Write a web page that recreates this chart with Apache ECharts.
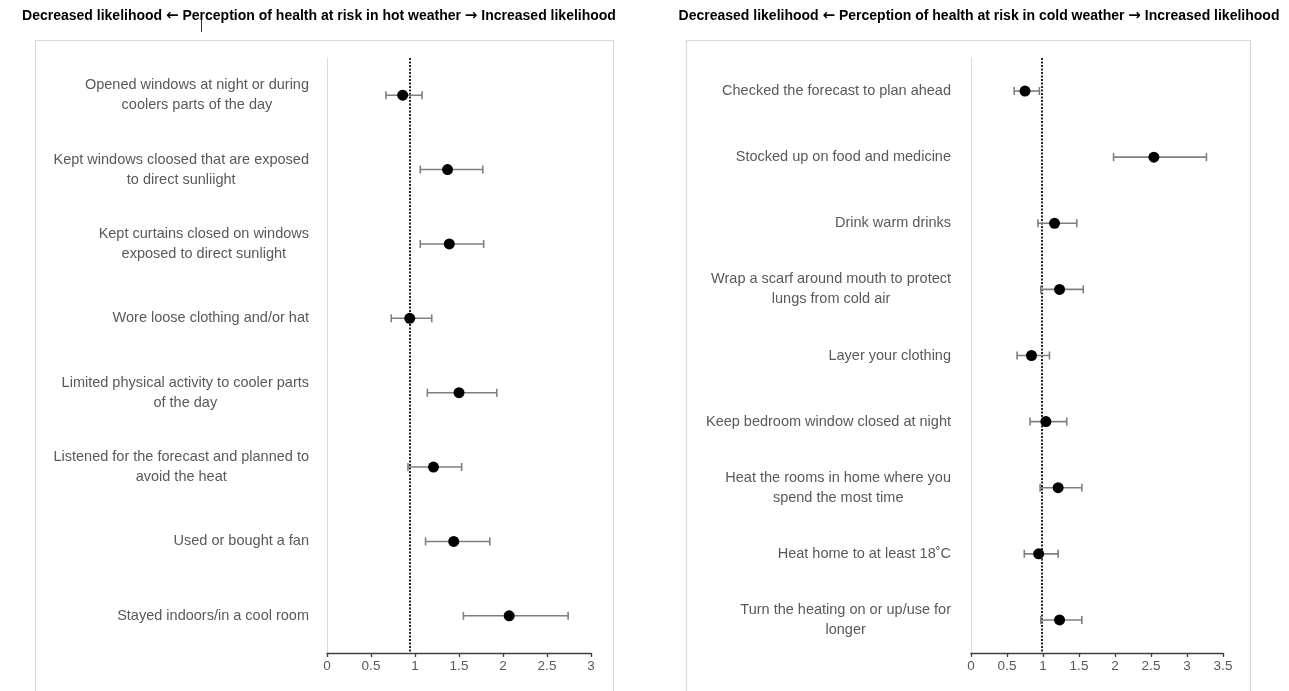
<!DOCTYPE html>
<html>
<head>
<meta charset="utf-8">
<script src="https://cdn.jsdelivr.net/npm/echarts@6/dist/echarts.min.js"></script>
<style>html,body{margin:0;padding:0;background:#fff}#c{width:1289px;height:691px}</style>
</head>
<body>
<div id="c"></div>
<script>
// ---- Data ----
const hotTitleLeft = 'Decreased likelihood';
const hotTitleMid = 'Perception of health at risk in hot weather';
const coldTitleMid = 'Perception of health at risk in cold weather';
const hotTitleRight = 'Increased likelihood';

const hotCategories = [
  'Opened windows at night or during\ncoolers parts of the day',
  'Kept windows cloosed that are exposed\nto direct sunliight',
  'Kept curtains closed on windows\nexposed to direct sunlight',
  'Wore loose clothing and/or hat',
  'Limited physical activity to cooler parts\nof the day',
  'Listened for the forecast and planned to\navoid the heat',
  'Used or bought a fan',
  'Stayed indoors/in a cool room'
];
const hotMean = [0.86, 1.37, 1.39, 0.94, 1.50, 1.21, 1.44, 2.07];
const hotLow  = [0.67, 1.06, 1.06, 0.73, 1.14, 0.92, 1.12, 1.55];
const hotHigh = [1.08, 1.77, 1.78, 1.19, 1.93, 1.53, 1.85, 2.74];
const hotRef = 0.94;
const hotTicks = {min: 0, max: 3, interval: 0.5};

const coldCategories = [
  'Checked the forecast to plan ahead',
  'Stocked up on food and medicine',
  'Drink warm drinks',
  'Wrap a scarf around mouth to protect\nlungs from cold air',
  'Layer your clothing',
  'Keep bedroom window closed at night',
  'Heat the rooms in home where you\nspend the most time',
  'Heat home to at least 18\u02daC',
  'Turn the heating on or up/use for\nlonger'
];
const coldMean = [0.75, 2.54, 1.16, 1.23, 0.84, 1.04, 1.21, 0.94, 1.23];
const coldLow  = [0.60, 1.98, 0.93, 0.97, 0.64, 0.82, 0.96, 0.74, 0.97];
const coldHigh = [0.95, 3.27, 1.47, 1.56, 1.09, 1.33, 1.54, 1.21, 1.54];
const coldRef = 0.98;
const coldTicks = {min: 0, max: 3.5, interval: 0.5};

// ---- Chart ----
const chart = echarts.init(document.getElementById('c'), null, {renderer: 'canvas'});
const labelFont = '"Liberation Sans", Arial, sans-serif';

function fmtLabel(v) {
  return v.split('\n').map(l => '{c|' + l + '}').join('\n');
}

function errSeries(idx, low, high) {
  return {
    type: 'custom',
    xAxisIndex: idx, yAxisIndex: idx,
    data: low.map((l, i) => [l, high[i], i]),
    encode: {x: [0, 1], y: 2},
    silent: true,
    z: 3,
    renderItem: function (params, api) {
      const p1 = api.coord([api.value(0), api.value(2)]);
      const p2 = api.coord([api.value(1), api.value(2)]);
      const h = 4;
      const st = {stroke: '#7f7f7f', lineWidth: 1.6};
      return {
        type: 'group',
        children: [
          {type: 'line', shape: {x1: p1[0], y1: p1[1], x2: p2[0], y2: p2[1]}, style: st},
          {type: 'line', shape: {x1: p1[0], y1: p1[1] - h, x2: p1[0], y2: p1[1] + h}, style: st},
          {type: 'line', shape: {x1: p2[0], y1: p2[1] - h, x2: p2[0], y2: p2[1] + h}, style: st}
        ]
      };
    }
  };
}

function pointSeries(idx, mean, ref) {
  return {
    type: 'scatter',
    xAxisIndex: idx, yAxisIndex: idx,
    data: mean.map((m, i) => [m, i]),
    symbol: 'circle',
    symbolSize: 11,
    itemStyle: {color: '#000', opacity: 1},
    z: 4,
    silent: true,
    markLine: {
      silent: true,
      symbol: ['none', 'none'],
      label: {show: false},
      lineStyle: {color: '#262626', type: [2, 1.5], width: 2},
      data: [{xAxis: ref}],
      z: 2
    }
  };
}

function xAx(idx, t) {
  return {
    gridIndex: idx, type: 'value', min: t.min, max: t.max, interval: t.interval,
    splitLine: {show: false},
    axisLine: {show: true, lineStyle: {color: '#404040', width: 1.3}},
    axisTick: {show: true, length: 4, lineStyle: {color: '#404040', width: 1.3}},
    axisLabel: {color: '#595959', fontSize: 13.5, fontFamily: labelFont, margin: 6}
  };
}
function yAx(idx, cats, margin) {
  return {
    gridIndex: idx, type: 'category', data: cats, inverse: true,
    axisLine: {show: true, lineStyle: {color: '#d9d9d9', width: 1}},
    axisTick: {show: false},
    splitLine: {show: false},
    axisLabel: {
      color: '#595959', fontSize: 14.5, fontFamily: labelFont, margin: margin,
      lineHeight: 20,
      formatter: fmtLabel,
      rich: {c: {align: 'center', color: '#595959', fontSize: 14.5, fontFamily: labelFont, lineHeight: 20}}
    }
  };
}

function titleText(mid) {
  return hotTitleLeft + ' {a|\u2190} ' + mid + ' {a|\u2192} ' + hotTitleRight;
}
const titleStyle = {
  fontSize: 14, fontWeight: 'bold', color: '#000', fontFamily: labelFont,
  rich: {a: {fontSize: 15, fontWeight: 'bold', color: '#000', fontFamily: '"DejaVu Sans", sans-serif'}}
};

const option = {
  animation: false,
  backgroundColor: '#fff',
  title: [
    {text: titleText(hotTitleMid), left: 314, top: 4, textAlign: 'center', textStyle: titleStyle},
    {text: titleText(coldTitleMid), left: 974, top: 4, textAlign: 'center', textStyle: titleStyle}
  ],
  grid: [
    {left: 327, right: 1289 - 591, top: 58, bottom: 38},
    {left: 971, right: 1289 - 1223, top: 58, bottom: 38}
  ],
  xAxis: [xAx(0, hotTicks), xAx(1, coldTicks)],
  yAxis: [yAx(0, hotCategories, 18), yAx(1, coldCategories, 20)],
  graphic: [
    {type: 'rect', shape: {x: 35.5, y: 40.5, width: 578, height: 660}, style: {fill: 'none', stroke: '#d9d9d9', lineWidth: 1.2}, z: -1},
    {type: 'rect', shape: {x: 686.5, y: 40.5, width: 564, height: 660}, style: {fill: 'none', stroke: '#d9d9d9', lineWidth: 1.2}, z: -1},
    {type: 'line', shape: {x1: 201.5, y1: 20, x2: 201.5, y2: 32}, style: {stroke: '#333', lineWidth: 1}}
  ],
  series: [
    errSeries(0, hotLow, hotHigh),
    pointSeries(0, hotMean, hotRef),
    errSeries(1, coldLow, coldHigh),
    pointSeries(1, coldMean, coldRef)
  ]
};
chart.setOption(option);
</script>
</body>
</html>
